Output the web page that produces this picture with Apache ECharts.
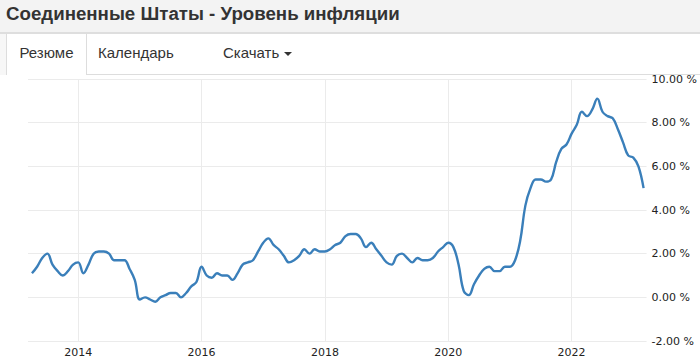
<!DOCTYPE html>
<html>
<head>
<meta charset="utf-8">
<script src="https://cdn.jsdelivr.net/npm/echarts@6/dist/echarts.min.js"></script>
<style>
  html, body { margin: 0; padding: 0; width: 700px; height: 361px; overflow: hidden; background: #fff; }
  #chart { position: absolute; left: 0; top: 0; width: 700px; height: 361px; }
  #header { position: absolute; left: 0; top: 0; width: 700px; height: 32px; background: #f3f3f3; border-bottom: 2px solid #dedede; z-index: 2; }
  #title { position: absolute; left: 6px; top: 3px; font-family: "Liberation Sans", Arial, sans-serif; font-weight: bold; font-size: 18.7px; color: #333; white-space: nowrap; }
  #tabs { position: absolute; left: 0; top: 34px; width: 700px; height: 40px; border-bottom: 1px solid #dddddd; z-index: 2; background: #fff; }
  #tabs .lead { position: absolute; left: 0; top: 0; width: 6px; height: 41px; background: #f7f7f7; }
  .tab { position: absolute; top: 0; height: 40px; line-height: 38px; font-family: "Liberation Sans", Arial, sans-serif; font-size: 15px; color: #333; white-space: nowrap; }
  .tab.active { left: 6px; width: 79px; height: 41px; background: #fff; border-left: 1px solid #dddddd; border-right: 1px solid #dddddd; text-align: center; }
  .caret { display: inline-block; width: 0; height: 0; margin-left: 5px; vertical-align: middle; border-top: 4px solid #333; border-left: 4px solid transparent; border-right: 4px solid transparent; }
</style>
</head>
<body>
<div id="chart"></div>
<div id="header"><div id="title">Соединенные Штаты - Уровень инфляции</div></div>
<div id="tabs">
  <div class="lead"></div>
  <div class="tab active">Резюме</div>
  <div class="tab" style="left:98px;">Календарь</div>
  <div class="tab" style="left:223px;">Скачать<span class="caret"></span></div>
</div>
<script>
// Monthly US inflation rate, April 2013 .. March 2023 (values in %)
const startYear = 2013;
const startMonth = 4;
const inflation = [
  1.1, 1.4, 1.8, 2.0, 1.5, 1.2, 1.0, 1.2, 1.5,            // 2013 Apr-Dec
  1.6, 1.1, 1.5, 2.0, 2.1, 2.1, 2.0, 1.7, 1.7, 1.7, 1.3, 0.8, // 2014
  -0.1, 0.0, -0.1, -0.2, 0.0, 0.1, 0.2, 0.2, 0.0, 0.2, 0.5, 0.7, // 2015
  1.4, 1.0, 0.9, 1.1, 1.0, 1.0, 0.8, 1.1, 1.5, 1.6, 1.7, 2.1, // 2016
  2.5, 2.7, 2.4, 2.2, 1.9, 1.6, 1.7, 1.9, 2.2, 2.0, 2.2, 2.1, // 2017
  2.1, 2.2, 2.4, 2.5, 2.8, 2.9, 2.9, 2.7, 2.3, 2.5, 2.2, 1.9, // 2018
  1.6, 1.5, 1.9, 2.0, 1.8, 1.6, 1.8, 1.7, 1.7, 1.8, 2.1, 2.3, // 2019
  2.5, 2.3, 1.5, 0.3, 0.1, 0.6, 1.0, 1.3, 1.4, 1.2, 1.2, 1.4, // 2020
  1.4, 1.7, 2.6, 4.2, 5.0, 5.4, 5.4, 5.3, 5.4, 6.2, 6.8, 7.0, // 2021
  7.5, 7.9, 8.5, 8.3, 8.6, 9.1, 8.5, 8.3, 8.2, 7.7, 7.1, 6.5, // 2022
  6.4, 6.0, 5.0                                               // 2023 Jan-Mar
];
const xTickYears = [2014, 2016, 2018, 2020, 2022];
const yTicks = [-2, 0, 2, 4, 6, 8, 10];

const points = inflation.map((v, i) => {
  const m = startMonth - 1 + i;
  return [startYear + m / 12, v];
});

const chart = echarts.init(document.getElementById('chart'), null, { renderer: 'svg' });
const labelFont = '"DejaVu Sans", Verdana, sans-serif';
chart.setOption({
  animation: false,
  grid: { left: 28, right: 47, top: 79, bottom: 20, containLabel: false },
  xAxis: {
    type: 'value',
    min: 2013.186,
    max: 2023.215,
    axisLine: { show: false },
    axisTick: { show: false, customValues: xTickYears },
    axisLabel: {
      customValues: xTickYears,
      margin: 6,
      color: '#222',
      fontFamily: labelFont,
      fontSize: 11,
      formatter: v => String(Math.round(v))
    },
    splitLine: { show: true, lineStyle: { color: '#ebebeb', width: 1 } }
  },
  yAxis: {
    type: 'value',
    position: 'right',
    min: yTicks[0],
    max: yTicks[yTicks.length - 1],
    interval: 2,
    axisLine: { show: false },
    axisTick: { show: false },
    axisLabel: {
      margin: 5,
      color: '#222',
      fontFamily: labelFont,
      fontSize: 11,
      formatter: v => v.toFixed(2) + ' %'
    },
    splitLine: { show: true, lineStyle: { color: '#ebebeb', width: 1 } }
  },
  series: [{
    type: 'line',
    data: points,
    smooth: 0.4,
    showSymbol: false,
    symbol: 'none',
    lineStyle: { color: '#3a7fba', width: 2.4 },
    itemStyle: { color: '#3a7fba' }
  }]
});
</script>
</body>
</html>
